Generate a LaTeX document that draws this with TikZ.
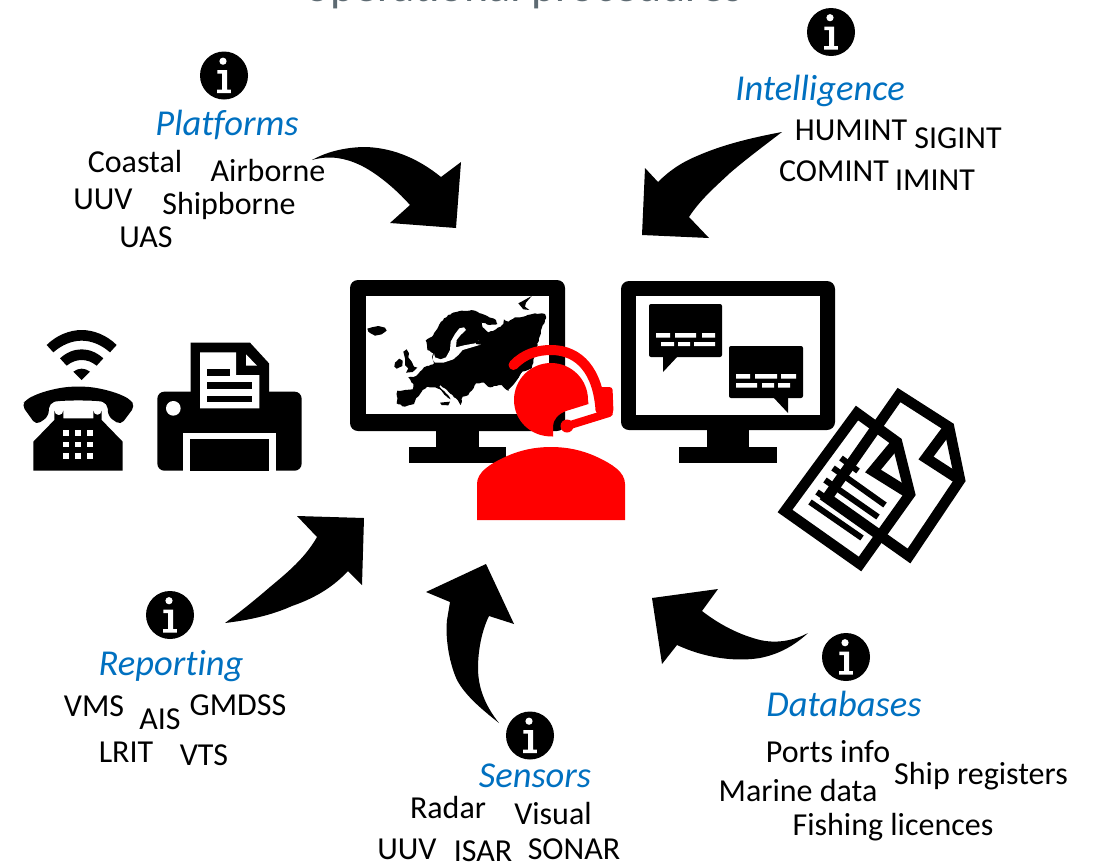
\documentclass[tikz,border=0pt]{standalone}
\usepackage{fontspec}
\usetikzlibrary{decorations.pathmorphing}
\setmainfont[Ligatures=NoCommon]{Carlito}
\definecolor{headblue}{HTML}{0070C0}
\definecolor{titlegray}{HTML}{5D6A72}
\tikzset{
  lbl/.style={font=\fontsize{32}{34}\selectfont,inner sep=0pt,text=black},
  head/.style={font=\fontsize{36.5}{38}\selectfont\itshape,inner sep=0pt,text=headblue},
  infodisc/.style={circle,fill=black,minimum size=48pt,inner sep=0pt},
  arrowfill/.style={fill=black},
  infoglyph/.pic={
    \fill[white] (-1,-14.3) circle (3.6pt);
    \fill[white] (-6.7,-5.5) -- (3,-5.5) -- (3,14) -- (6.8,14) -- (6.8,17.5) -- (-7,17.5) -- (-7,14) -- (-2,14) -- (-2,-2) -- (-6.7,-2) -- cycle;
  },
  z3/.style={shift={#1},x=0.33333pt,y=-0.33333pt},
  coast/.style={decorate,decoration={random steps,segment length=2.5pt,amplitude=0.6pt}},
  monitorframe/.style={fill=black,rounded corners=8pt},
  pagestroke/.style={draw=black,line width=10.5pt,miter limit=10,join=miter},
  pageline/.style={draw=black,line width=6pt},
}
\begin{document}
\begin{tikzpicture}[x=1pt,y=-1pt]
\useasboundingbox (0,0) rectangle (1094,865);
\begin{scope}
\clip (0,0) rectangle (1094,865);
\node[anchor=base,inner sep=0pt,text=titlegray,font=\fontsize{46}{48}\selectfont] (title) at (524,1.5) {operational procedures};

% --- monitors ---
\fill[monitorframe] (350,280) rectangle (565,431);
\fill[white] (366,296) rectangle (549,414);
\fill (436,430) rectangle (479,447);
\fill (409,447) rectangle (506,463);

\fill[monitorframe] (621,281) rectangle (835,430);
\fill[white] (636,296) rectangle (820,415);
\fill (707,429) rectangle (749,447);
\fill (679,447) rectangle (777,463);

% --- map ---
\begin{scope}[z3={(340,270)}]
\fill[coast] (170,400) -- (172,362) -- (195,360) -- (218,358) -- (220,342) -- (205,322) -- (228,318) -- (240,305) -- (252,292) -- (270,285) -- (282,280) -- (276,262) -- (280,250) -- (262,240) -- (257,212) -- (280,195) -- (295,170) -- (312,145) -- (335,130) -- (365,122) -- (405,122) -- (435,135) -- (468,150) -- (472,162) -- (450,165) -- (425,158) -- (428,172) -- (445,187) -- (468,178) -- (490,162) -- (492,148) -- (505,155) -- (525,142) -- (550,140) -- (585,130) -- (615,132) -- (618,145) -- (605,175) -- (597,205) -- (590,235) -- (580,270) -- (575,295) -- (548,305) -- (535,325) -- (522,345) -- (505,362) -- (485,345) -- (462,348) -- (450,352) -- (432,338) -- (408,340) -- (395,362) -- (385,375) -- (368,380) -- (362,405) -- (348,385) -- (325,365) -- (302,345) -- (298,350) -- (318,370) -- (332,388) -- (318,378) -- (300,358) -- (280,352) -- (262,350) -- (248,360) -- (240,372) -- (228,385) -- (222,402) -- (195,410) -- cycle;
% seas
\fill[white] (372,172) -- (358,175) -- (345,192) -- (332,215) -- (330,240) -- (318,262) -- (302,268) -- (285,262) -- (282,250) -- (277,268) -- (285,278) -- (310,278) -- (340,268) -- (355,255) -- (368,240) -- (395,232) -- (422,224) -- (415,212) -- (405,220) -- (372,226) -- (348,232) -- (350,210) -- (362,195) -- (378,180) -- cycle;
\fill[white] (548,305) -- (538,322) -- (520,345) -- (505,360) -- (520,362) -- (560,345) -- (578,300) -- cycle;
% Iceland
\fill (82,176) -- (95,172) -- (115,168) -- (135,173) -- (140,182) -- (125,193) -- (105,197) -- (92,190) -- (85,185) -- cycle;
% Britain
\fill (190,245) -- (200,238) -- (207,250) -- (205,262) -- (215,275) -- (222,290) -- (232,293) -- (218,306) -- (198,308) -- (205,295) -- (195,285) -- (195,265) -- cycle;
% Ireland
\fill (165,278) -- (178,266) -- (188,272) -- (187,288) -- (170,296) -- (163,290) -- cycle;
% Novaya Zemlya
\fill (535,100) -- (550,92) -- (575,78) -- (558,98) -- (555,110) -- (568,120) -- (550,118) -- cycle;
\fill (300,398) -- (330,395) -- (325,406) -- (305,405) -- cycle;
\fill (405,212) -- (420,214) -- (422,224) -- (408,222) -- cycle;
\end{scope}

% --- speech bubbles ---
\fill[rounded corners=2pt] (649,304) rectangle (722,357);
\fill (663,356) -- (663,372) -- (678,356) -- cycle;
\fill[white] (656,333) rectangle (670,337.5) (675,333) rectangle (696,337.5) (702,333) rectangle (715,337.5);
\fill[white] (661,342) rectangle (674,346) (678,342) rectangle (690,346) (694,342) rectangle (715,346);
\fill[rounded corners=2pt] (729,346) rectangle (803,398);
\fill (773,397) -- (788,413) -- (788,397) -- cycle;
\fill[white] (736,374) rectangle (750,378.5) (755,374) rectangle (777,378.5) (781,374) rectangle (796,378.5);
\fill[white] (736,383) rectangle (757,387.5) (762,383) rectangle (774,387.5) (778,383) rectangle (790,387.5);

% --- operator ---
\fill[red] (553,436.5) .. controls (530,437) and (514,420) .. (514,400) .. controls (514,379) and (531,363) .. (551,363) .. controls (571,363) and (588,379) .. (588,400) -- (588.5,404) -- (566,411) .. controls (558,414) and (553,420) .. (553,426) -- cycle;
\draw[red,line width=10pt,line cap=round] (513.5,365) .. controls (524,354) and (537,350) .. (551,350) .. controls (580,350) and (598,372) .. (600.5,410);
\fill[red,rounded corners=3pt] (597,387) -- (612.5,387) -- (613.5,413) -- (598,419) -- cycle;
\draw[red,line width=8pt,line cap=round] (567,426) -- (609,413);
\fill[red] (567,426) circle (6.5pt);
\fill[red] (477,520) -- (477,484) .. controls (477,472) and (490,464) .. (505,457) .. controls (520,450) and (535,447) .. (551,447) .. controls (567,447) and (582,450) .. (597,457) .. controls (612,464) and (625,472) .. (625,484) -- (625,520) -- cycle;

% --- phone and wifi ---
\begin{scope}[z3={(0,320)}]
\fill (140,75) .. controls (170,45) and (210,30) .. (245,30) .. controls (280,30) and (320,45) .. (350,75) -- (330,97) .. controls (305,75) and (275,62) .. (245,62) .. controls (215,62) and (185,75) .. (160,97) -- cycle;
\fill (180,115) .. controls (200,97) and (222,88) .. (245,88) .. controls (268,88) and (290,97) .. (310,115) -- (290,137) .. controls (275,125) and (260,120) .. (245,120) .. controls (230,120) and (215,125) .. (200,137) -- cycle;
\fill (220,155) .. controls (236,143) and (254,143) .. (270,155) -- (245,180) -- cycle;
\fill[rounded corners=5pt] (65,255) -- (80,238) .. controls (130,212) and (190,200) .. (235,200) .. controls (280,200) and (340,212) .. (390,238) -- (405,258) -- (362,315) -- (325,290) -- (322,250) .. controls (290,240) and (180,240) .. (148,250) -- (145,290) -- (108,315) -- cycle;
\fill (163,272) -- (163,300) -- (100,365) -- (100,452) -- (368,452) -- (368,365) -- (305,300) -- (305,272) arc[start angle=0,end angle=180,radius=12.5] -- (280,295) -- (190,295) -- (190,272) arc[start angle=0,end angle=180,radius=13.5] -- cycle;
\foreach \cx in {190,226,262}
  \foreach \cy in {330,365,400}
    \fill[white] (\cx,\cy) rectangle +(17,17);
% --- fax ---
\fill (572,230) -- (572,68) -- (750,68) -- (807,130) -- (807,230) -- cycle;
\fill[rounded corners=7pt] (472,215) rectangle (905,452);
\fill[white] (600,97) -- (708,97) -- (708,165) -- (778,165) -- (778,265) -- (600,265) -- cycle;
\fill[white] (738,103) -- (771,137) -- (738,137) -- cycle;
\fill (620,147) rectangle (690,167);
\fill (620,187) rectangle (757,206);
\fill (620,227) rectangle (757,246);
\fill[white] (520,265) circle (22);
\fill[white] (550,338) rectangle (827,453);
\fill (570,358) rectangle (807,453);
\end{scope}

% --- documents ---
\draw[pagestroke] (899,395) -- (949,427) -- (960,480) -- (909,556) -- (827,498) -- cycle;
\draw[pagestroke] (949,427) -- (926,458) -- (960,480);
\draw[pagestroke] (857,413) -- (897,442) -- (910,494) -- (860,564) -- (785,511) -- cycle;
\draw[pagestroke] (897,442) -- (873,471) -- (910,494);
\draw[pageline] (841,458) -- (858,471);
\draw[pageline] (833,468) -- (885,505);
\draw[pageline] (825,480) -- (878,517);
\draw[pageline] (817,492) -- (833,503);
\draw[pageline] (810,502) -- (862,538);

% --- big arrows ---
\fill[arrowfill] (312,160) .. controls (330,150) and (350,147) .. (366,147) .. controls (395,148) and (420,160) .. (441,177) -- (461,162) -- (456,228) -- (390,223) -- (410,205) .. controls (395,188) and (375,172) .. (360,165) .. controls (345,158) and (330,155) .. cycle;
\fill[arrowfill] (782,132) .. controls (750,138) and (722,145) .. (697,156) .. controls (680,163) and (668,172) .. (658,182) -- (645,168) -- (642,235) -- (709,238) -- (689,217) .. controls (700,200) and (715,187) .. (730,173) .. controls (745,160) and (765,145) .. cycle;
\fill[arrowfill] (225,623) .. controls (250,620) and (272,615) .. (292,606) .. controls (318,597) and (335,585) .. (348,571) -- (362,585) -- (364,518) -- (297,516) -- (317,537) .. controls (305,558) and (288,572) .. (270,587) .. controls (255,600) and (240,612) .. cycle;
\fill[arrowfill] (499,723) .. controls (480,708) and (465,695) .. (457,680) .. controls (450,665) and (445,640) .. (447,620) -- (450,602) -- (426,592) -- (486,564) -- (514,624) -- (489,616) .. controls (482,630) and (478,650) .. (478,668) .. controls (478,690) and (487,708) .. cycle;
\fill[arrowfill] (808,633) .. controls (795,645) and (780,654) .. (760,658) .. controls (735,662) and (705,658) .. (677,645) -- (662,664) -- (652,598) -- (718,589) -- (702,611) .. controls (720,625) and (740,635) .. (760,640) .. controls (778,644) and (795,640) .. cycle;

% --- info icons ---
\node[infodisc] (iplat) at (224,75.5) {}; \pic at (iplat.center) {infoglyph};
\node[infodisc] (iint) at (831,32) {}; \pic at (iint.center) {infoglyph};
\node[infodisc] (irep) at (170,615) {}; \pic at (irep.center) {infoglyph};
\node[infodisc] (isen) at (530,735.5) {}; \pic at (isen.center) {infoglyph};
\node[infodisc] (idb) at (846,657) {}; \pic at (idb.center) {infoglyph};

% --- headings ---
\node[head] (hplat) at (227,125) {Platforms};
\node[head] (hint) at (820,91) {Intelligence};
\node[head] (hrep) at (171,666) {Reporting};
\node[head] (hsen) at (535,776) {Sensors};
\node[head] (hdb) at (844,704) {Databases};

% --- lists ---
\node[lbl] (a1) at (135,162) {Coastal};
\node[lbl] (a2) at (268,170) {Airborne};
\node[lbl] (a3) at (103,199) {UUV};
\node[lbl] (a4) at (229,206) {Shipborne};
\node[lbl] (a5) at (146,237) {UAS};
\node[lbl] (b1) at (851,130) {HUMINT};
\node[lbl] (b2) at (958,138) {SIGINT};
\node[lbl] (b3) at (834,171) {COMINT};
\node[lbl] (b4) at (935,180) {IMINT};
\node[lbl] (c1) at (94,706) {VMS};
\node[lbl] (c2) at (160,719) {AIS};
\node[lbl] (c3) at (238,705) {GMDSS};
\node[lbl] (c4) at (126,752) {LRIT};
\node[lbl] (c5) at (204,755) {VTS};
\node[lbl] (d1) at (448,807) {Radar};
\node[lbl] (d2) at (553,813) {Visual};
\node[lbl] (d3) at (407,849) {UUV};
\node[lbl] (d4) at (483,851) {ISAR};
\node[lbl] (d5) at (574,849) {SONAR};
\node[lbl] (e1) at (828,752) {Ports info};
\node[lbl] (e2) at (981,776) {Ship registers};
\node[lbl] (e3) at (798,790) {Marine data};
\node[lbl] (e4) at (893,827) {Fishing licences};
\end{scope}
\end{tikzpicture}
\end{document}
